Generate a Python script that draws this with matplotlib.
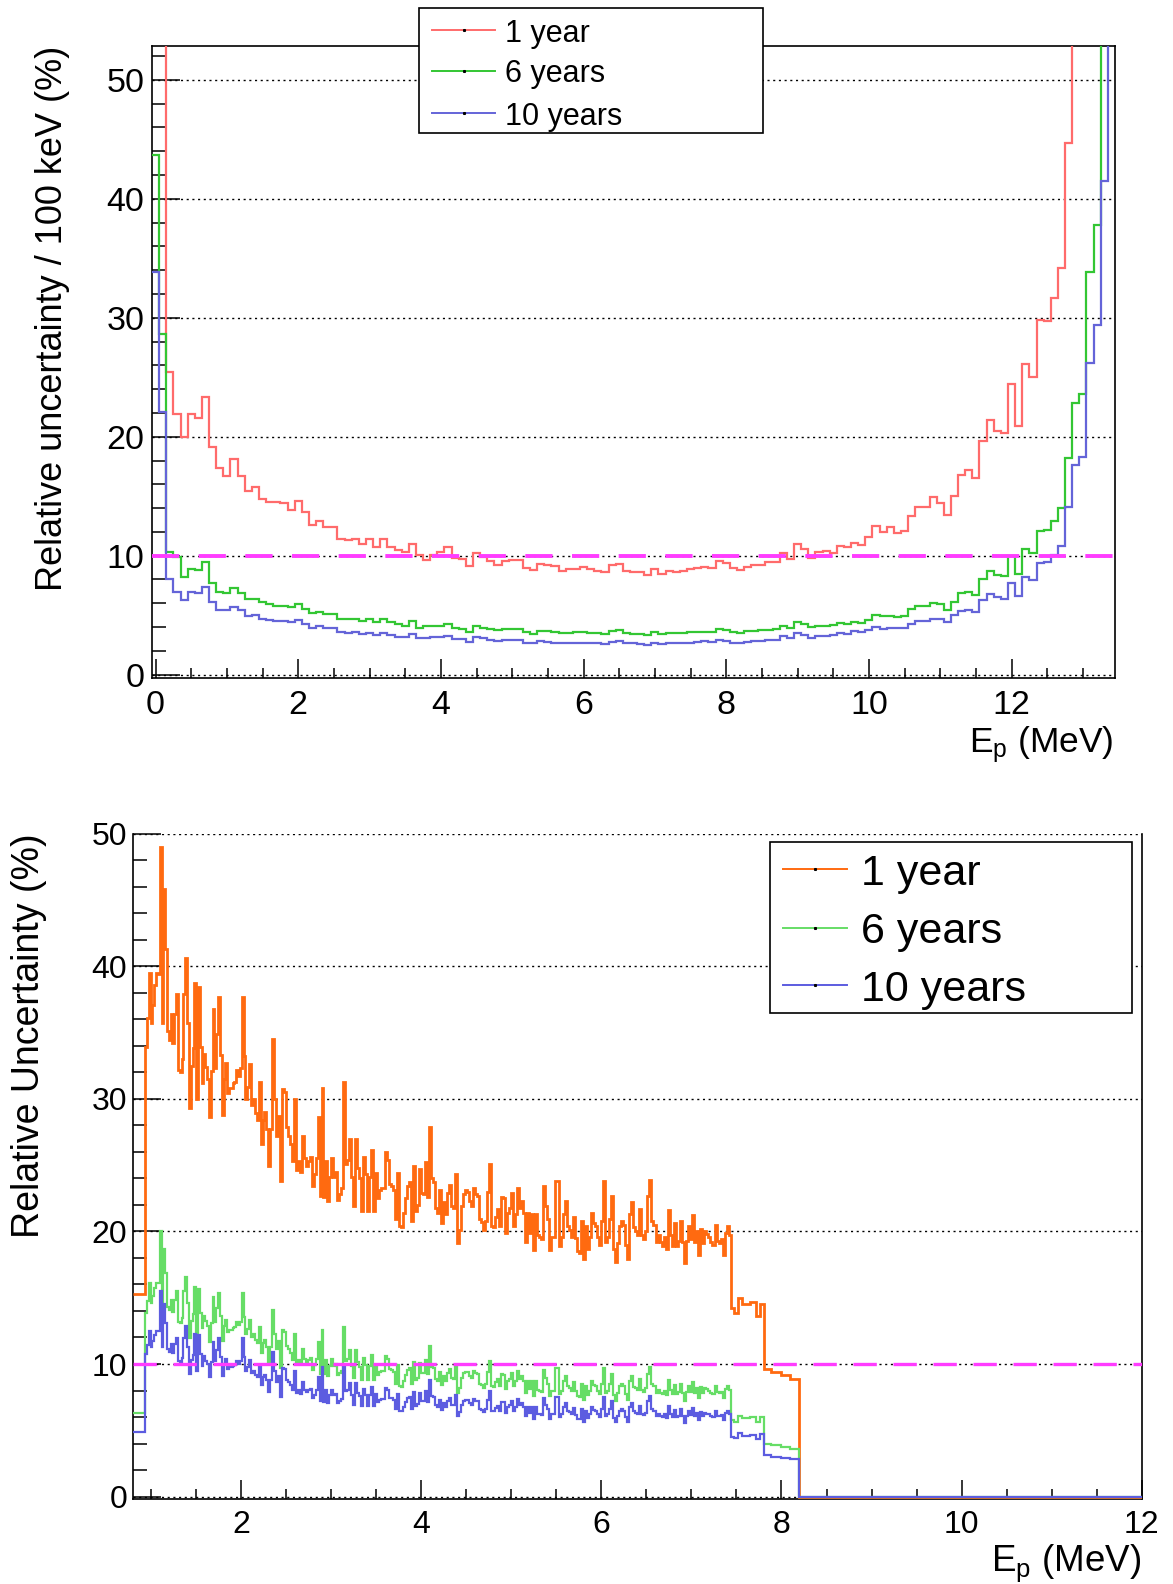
import numpy as np
import matplotlib
matplotlib.use("Agg")
import matplotlib.pyplot as plt
from matplotlib.lines import Line2D
from matplotlib.patches import Rectangle
from matplotlib.ticker import MultipleLocator

plt.rcParams['font.family'] = ['Liberation Sans', 'DejaVu Sans']
plt.rcParams['mathtext.fontset'] = 'custom'
plt.rcParams['mathtext.rm'] = 'Liberation Sans'

W, H = 1173, 1584

# ---------------- upper panel: 100 keV bins centred on 0.0 ... 13.4 MeV
labels = ["1 year", "6 years", "10 years"]
top_unc_1y = [
    107, 70, 25.4, 21.95, 20.0, 21.95, 21.6, 23.3, 19.1, 17.4,
    16.7, 18.1, 16.7, 15.4, 15.8, 14.8, 14.5, 14.5, 14.4, 13.8,
    14.6, 13.7, 12.6, 12.9, 12.4, 12.4, 11.4, 11.3, 11.4, 11.0,
    11.4, 10.7, 11.4, 10.7, 10.5, 10.3, 11.0, 10.06, 9.6, 10.1,
    10.3, 10.7, 9.8, 9.7, 9.15, 10.2, 9.9, 9.55, 9.25, 9.55,
    9.6, 9.6, 9.0, 8.8, 9.3, 9.25, 9.1, 8.7, 8.85, 8.85,
    9.05, 8.85, 8.7, 8.65, 9.2, 9.3, 8.7, 8.6, 8.6, 8.4,
    8.9, 8.5, 8.7, 8.65, 8.75, 8.85, 9.0, 9.05, 9.0, 9.55,
    9.35, 9.0, 8.8, 9.05, 9.2, 9.25, 9.45, 9.5, 10.2, 9.7,
    11.0, 10.6, 9.8, 10.35, 10.4, 10.2, 10.8, 10.7, 11.1, 10.9,
    11.6, 12.5, 12.0, 12.4, 11.9, 12.1, 13.3, 14.1, 14.1, 14.9,
    14.45, 13.4, 15.0, 16.8, 17.2, 16.5, 19.6, 21.4, 20.5, 20.3,
    24.4, 20.9, 26.1, 25.0, 29.8, 29.7, 31.7, 34.2, 44.7, 56,
    58, 83, 93, 130, 200,
]
top_unc_6y = [
    43.7, 28.6, 10.3, 9.85, 8.2, 8.9, 8.8, 9.5, 7.7, 6.95,
    6.9, 7.3, 6.85, 6.35, 6.4, 6.1, 5.9, 5.8, 5.8, 5.65,
    5.95, 5.5, 5.2, 5.3, 5.1, 5.1, 4.7, 4.65, 4.7, 4.5,
    4.65, 4.4, 4.65, 4.4, 4.3, 4.1, 4.5, 3.95, 4.1, 4.05,
    4.1, 4.25, 3.9, 3.8, 3.55, 4.05, 3.9, 3.8, 3.75, 3.85,
    3.85, 3.85, 3.6, 3.45, 3.7, 3.65, 3.55, 3.5, 3.5, 3.55,
    3.6, 3.5, 3.47, 3.44, 3.67, 3.75, 3.5, 3.44, 3.44, 3.35,
    3.55, 3.4, 3.47, 3.47, 3.5, 3.55, 3.6, 3.6, 3.6, 3.85,
    3.75, 3.6, 3.5, 3.65, 3.7, 3.75, 3.75, 3.85, 4.12, 3.9,
    4.4, 4.25, 3.98, 4.12, 4.12, 4.18, 4.35, 4.3, 4.4, 4.35,
    4.63, 5.02, 4.9, 4.95, 4.82, 4.9, 5.5, 5.75, 5.8, 6.0,
    5.9, 5.45, 6.1, 6.85, 6.95, 6.7, 8.0, 8.7, 8.35, 8.3,
    9.95, 8.5, 10.6, 10.2, 12.1, 12.2, 12.95, 14.0, 18.25, 22.8,
    23.6, 33.85, 37.8, 53.6, 70,
]
top_unc_10y = [
    33.85, 22.1, 8.0, 6.95, 6.3, 6.95, 6.9, 7.4, 6.1, 5.45,
    5.4, 5.65, 5.4, 4.9, 5.0, 4.65, 4.6, 4.55, 4.55, 4.4,
    4.6, 4.3, 3.95, 4.05, 3.9, 3.9, 3.6, 3.5, 3.6, 3.4,
    3.5, 3.35, 3.5, 3.3, 3.2, 3.15, 3.4, 3.05, 3.05, 3.15,
    3.2, 3.27, 3.0, 2.98, 2.76, 3.18, 3.04, 2.92, 2.83, 2.9,
    2.9, 2.9, 2.7, 2.65, 2.83, 2.76, 2.7, 2.62, 2.62, 2.65,
    2.7, 2.65, 2.62, 2.56, 2.76, 2.83, 2.65, 2.62, 2.6, 2.53,
    2.7, 2.56, 2.62, 2.62, 2.65, 2.7, 2.76, 2.8, 2.76, 2.9,
    2.83, 2.7, 2.65, 2.76, 2.8, 2.83, 2.9, 2.92, 3.27, 3.07,
    3.47, 3.35, 3.1, 3.27, 3.27, 3.33, 3.5, 3.4, 3.64, 3.55,
    3.78, 4.0, 3.85, 3.95, 3.9, 3.95, 4.3, 4.5, 4.55, 4.7,
    4.65, 4.4, 5.0, 5.35, 5.45, 5.25, 6.25, 6.8, 6.55, 6.35,
    7.7, 6.6, 8.25, 7.95, 9.4, 9.5, 10.1, 10.85, 14.1, 17.65,
    18.3, 26.2, 29.4, 41.5, 60,
]
top_edges = np.arange(len(top_unc_1y) + 1) * 0.1 - 0.05

# ---------------- lower panel: fine binning between 0.93 and 7.44 MeV
low_first_bin = (0.8, 0.931)
low_first_1y, low_first_6y, low_first_10y = 15.3, 6.27, 4.84

seg_bounds = [0.931, 2.126, 3.459, 4.792, 6.126, 7.437]
seg1_1y = [33.9, 36.1, 39.5, 35.7, 37.1, 38.6, 39.5, 39.4, 49.0, 35.7,
           45.8, 41.3, 35.1, 34.4, 36.4, 34.2, 36.4, 37.9, 32.2, 32.0,
           33.0, 37.9, 40.6, 35.7, 29.3, 32.5, 33.8, 38.7, 30.0, 38.4,
           33.9, 31.2, 33.4, 32.4, 31.5, 28.6, 32.1, 36.8, 32.3, 34.9,
           37.7, 33.3, 28.8, 31.5, 32.7, 30.4, 30.8, 30.8, 31.2, 31.3,
           32.2, 31.7, 32.3, 37.7, 33.2, 30.0, 30.9, 32.6, 29.5]
seg2_1y = [30.0, 28.9, 28.4, 31.3, 26.6, 28.4, 29.0, 27.7, 24.9, 27.7,
           34.5, 30.0, 27.2, 28.7, 23.8, 30.7, 30.5, 27.9, 27.2, 26.6,
           25.3, 30.0, 24.6, 25.3, 24.5, 27.2, 25.5, 24.9, 25.3, 25.6,
           23.4, 24.3, 25.5, 28.6, 22.7, 30.8, 22.6, 25.3, 22.3, 24.1,
           25.5, 24.1, 24.5, 22.4, 22.8, 23.3, 31.3, 25.1, 25.4, 27.0,
           24.1, 21.9, 27.0, 24.8, 24.0, 21.5, 25.6, 24.3, 21.5, 24.1, 26.1]
seg3_1y = [21.5, 24.4, 22.5, 23.1, 23.3, 23.3, 26.0, 25.4, 23.6, 23.4,
           23.1, 20.9, 24.4, 20.4, 20.3, 21.4, 22.5, 23.4, 23.7, 20.8,
           24.9, 21.5, 22.0, 24.7, 22.9, 22.8, 25.2, 22.6, 27.9, 24.0,
           23.7, 21.8, 21.4, 23.1, 20.6, 22.2, 21.3, 22.9, 23.5, 21.9,
           21.8, 24.3, 19.1, 20.1, 21.9, 22.8, 23.1, 23.0, 22.3, 21.9,
           23.3, 22.8, 22.7, 20.9, 20.7, 20.1, 20.8, 23.0, 25.1, 20.4]
seg4_1y = [20.3, 21.1, 21.7, 20.4, 22.6, 22.5, 19.9, 21.4, 21.8, 22.9,
           20.4, 21.3, 23.3, 21.8, 22.3, 21.4, 19.2, 21.4, 19.9, 21.3,
           18.6, 21.3, 19.7, 19.6, 19.4, 23.4, 21.9, 20.9, 18.6, 19.6,
           19.6, 23.8, 23.8, 18.9, 19.6, 21.3, 22.3, 20.4, 20.1, 19.6,
           21.1, 19.5, 18.5, 18.4, 20.8, 17.9, 20.4, 18.7, 19.6, 21.4,
           20.6, 20.4, 19.6, 19.0, 20.8, 23.8, 19.2, 19.6, 20.9, 22.7]
seg5_1y = [18.7, 17.7, 19.1, 20.4, 20.8, 20.5, 19.0, 17.9, 21.3, 22.2,
           20.3, 20.0, 19.7, 21.7, 19.7, 19.4, 20.0, 22.7, 23.9, 20.8,
           20.5, 19.2, 19.7, 19.2, 18.9, 19.6, 18.7, 21.6, 19.7, 18.9,
           20.6, 18.9, 19.3, 20.8, 19.2, 17.6, 19.3, 20.4, 19.4, 21.2,
           19.2, 20.0, 18.2, 20.2, 19.1, 20.0, 19.8, 19.6, 19.2, 19.0,
           20.5, 19.3, 19.1, 19.4, 18.2, 19.9, 20.4, 19.7]

tail_edges = [7.437, 7.474, 7.519, 7.563, 7.648, 7.715, 7.759, 7.804,
              7.889, 8.0, 8.1, 8.196, 12.0]
tail_1y = [14.2, 13.85, 15.0, 14.5, 14.7, 13.65, 14.5, 9.6, 9.4, 9.2, 8.85, 0.0]
tail_6y = [5.8, 5.65, 6.05, 5.9, 6.0, 5.6, 5.97, 3.98, 3.9, 3.78, 3.58, 0.0]
tail_10y = [4.53, 4.4, 4.8, 4.6, 4.65, 4.33, 4.7, 3.15, 3.0, 2.95, 2.82, 0.0]

# the longer exposures follow the 1-year bin pattern, reduced by the
# ratio of the curves (about 2.45 for 6 years and 3.16 for 10 years)
ratio_6y, ratio_10y = 2.45, 3.16
segs_1y = [seg1_1y, seg2_1y, seg3_1y, seg4_1y, seg5_1y]


def assemble(first, segs, tail):
    edges = [low_first_bin[0], low_first_bin[1]]
    vals = [first]
    for lo, hi, seg in zip(seg_bounds[:-1], seg_bounds[1:], segs):
        e = np.linspace(lo, hi, len(seg) + 1)
        edges.extend(e[1:].tolist())
        vals.extend(seg)
    edges.extend(tail_edges[1:])
    vals.extend(tail)
    return np.array(vals), np.array(edges)


low_1y, low_edges = assemble(low_first_1y, segs_1y, tail_1y)
low_6y, _ = assemble(low_first_6y, [np.array(s) / ratio_6y for s in segs_1y], tail_6y)
low_10y, _ = assemble(low_first_10y, [np.array(s) / ratio_10y for s in segs_1y], tail_10y)

top_colors = ["#ff6b6b", "#33c633", "#6464d8"]
low_colors = ["#ff6a10", "#66dd66", "#5c5ce0"]
magenta = "#ff3cff"

fig = plt.figure(figsize=(W / 100, H / 100), dpi=100)


def fx(x):
    return x / W


def fy(y):
    return 1 - y / H


ax1 = fig.add_axes([fx(152), fy(678), (1115 - 152) / W, (678 - 46) / H])
ax2 = fig.add_axes([fx(133.3), fy(1499.3), (1141.6 - 133.3) / W, (1499.3 - 833.5) / H])

grid_style = dict(color="black", lw=1.0, linestyle=(0, (1.5, 2.6)), zorder=1)

# upper panel
ax1.set_xlim(-0.05, 13.45)
ax1.set_ylim(-0.28, 52.84)
for yv in range(0, 51, 10):
    ax1.axhline(yv, **grid_style)
for vals, c in zip([top_unc_1y, top_unc_6y, top_unc_10y], top_colors):
    ax1.stairs(vals, top_edges, baseline=None, color=c, lw=1.6, zorder=3)
ax1.axhline(10, color=magenta, lw=2.8, linestyle=(0, (7, 5)), zorder=4)

# lower panel
ax2.set_xlim(0.8, 12.0)
ax2.set_ylim(-0.2, 50)
for yv in range(0, 51, 10):
    ax2.axhline(yv, **grid_style)
for vals, c, lw in zip([low_1y, low_6y, low_10y], low_colors, [2.0, 1.6, 1.6]):
    ax2.stairs(vals, low_edges, baseline=None, color=c, lw=lw, zorder=3)
ax2.axhline(10, color=magenta, lw=2.4, linestyle=(0, (7, 5)), zorder=4)
ax2.spines["top"].set_visible(False)

for ax, lsize in ((ax1, 24.5), (ax2, 23)):
    ax.xaxis.set_major_locator(MultipleLocator(2))
    ax.xaxis.set_minor_locator(MultipleLocator(0.5))
    ax.yaxis.set_major_locator(MultipleLocator(10))
    ax.yaxis.set_minor_locator(MultipleLocator(2))
    ax.tick_params(which="both", direction="in", top=False, right=False,
                   width=1.1, labelsize=lsize)
    ax.tick_params(axis="y", which="major", length=20, pad=5.5)
    ax.tick_params(axis="y", which="minor", length=10)
    ax.tick_params(axis="x", which="major", length=13.5, pad=9)
    ax.tick_params(axis="x", which="minor", length=7.5)
    for s in ax.spines.values():
        s.set_linewidth(1.2)
    ax.set_facecolor("none")

ax2.tick_params(axis="x", which="major", pad=7.5)
ax2.tick_params(axis="y", which="major", pad=4.5)

# axis titles
fig.text(fx(53), fy(45.5), "Relative uncertainty / 100 keV (%)", rotation=90,
         ha="center", va="top", fontsize=26)
fig.text(fx(1114), fy(745), r"$\mathregular{E_p}$ (MeV)", ha="right", va="center", fontsize=25.5)
fig.text(fx(29), fy(833.5), "Relative Uncertainty (%)", rotation=90,
         ha="center", va="top", fontsize=27)
fig.text(fx(1141), fy(1563), r"$\mathregular{E_p}$ (MeV)", ha="right", va="center", fontsize=26.5)


def legend_box(x0, y0, x1, y1, lx0, lx1, tx, ys, colors, fsize):
    fig.add_artist(Rectangle((fx(x0), fy(y1)), fx(x1) - fx(x0), fy(y0) - fy(y1),
                             transform=fig.transFigure, facecolor="white",
                             edgecolor="black", lw=1.2, zorder=10))
    for yy, c, lab in zip(ys, colors, labels):
        fig.add_artist(Line2D([fx(lx0), fx(lx1)], [fy(yy), fy(yy)], color=c, lw=1.4,
                              transform=fig.transFigure, zorder=11))
        fig.add_artist(Line2D([fx((lx0 + lx1) / 2)], [fy(yy)], marker="s", ms=1.2,
                              color="black", transform=fig.transFigure, zorder=12))
        fig.text(fx(tx), fy(yy), lab, ha="left", va="center_baseline",
                 fontsize=fsize, zorder=12)


legend_box(419, 8, 763, 133, 432, 495, 505, [30.3, 70.7, 113.2], top_colors, 22)
legend_box(770, 841.6, 1131.5, 1013.3, 783, 847, 861, [869, 927.5, 985], low_colors, 31)

fig.savefig("out.png", dpi=100)
